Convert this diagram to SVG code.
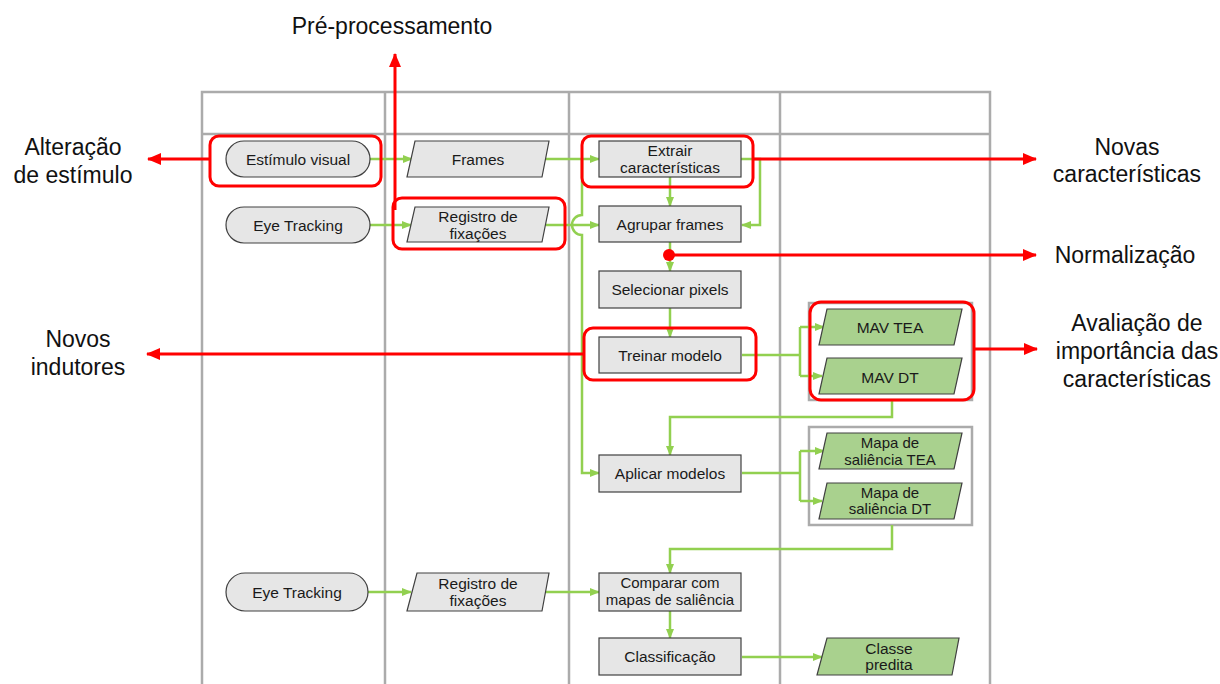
<svg xmlns="http://www.w3.org/2000/svg" width="1220" height="684" viewBox="0 0 1220 684">
<style>
.grid{stroke:#ABABAB;stroke-width:2.5;fill:none}
.box{fill:#E6E6E6;stroke:#404040;stroke-width:1.2}
.gbox{fill:#A9D18E;stroke:#404040;stroke-width:1.2}
.frame{fill:none;stroke:#ABABAB;stroke-width:2.5}
.t{font-family:"Liberation Sans",Arial,sans-serif;font-size:15.5px;fill:#1A1A1A;text-anchor:middle}
.s{font-size:15px}
.lab{font-family:"Liberation Sans",Arial,sans-serif;font-size:23px;fill:#111;text-anchor:middle}
.g{stroke:#92D050;stroke-width:2.5;fill:none}
.r{stroke:#FF0000;stroke-width:3;fill:none}
.hl{stroke:#FF0000;stroke-width:3;fill:none}
</style>
<defs>
<marker id="ga" markerUnits="userSpaceOnUse" markerWidth="10" markerHeight="10" refX="9" refY="5" orient="auto"><path d="M0,1 L10,5 L0,9 Z" fill="#92D050"/></marker>
<marker id="ra" markerUnits="userSpaceOnUse" markerWidth="14" markerHeight="12" refX="13" refY="6" orient="auto"><path d="M0,0 L14,6 L0,12 Z" fill="#FF0000"/></marker>
</defs>
<rect width="1220" height="684" fill="#FFFFFF"/>
<g id="grid">
<path class="grid" d="M202,684 V92 H990 V684 M385,92 V684 M569,92 V684 M780,92 V684 M202,134 H990"/>
</g>
<g id="groups">
<rect class="frame" x="809" y="303" width="163" height="97"/>
<rect class="frame" x="809" y="427" width="163" height="98"/>
</g>
<g id="connectors">
<path class="g" d="M370,159 H412" marker-end="url(#ga)"/>
<path class="g" d="M370,225 H411" marker-end="url(#ga)"/>
<path class="g" d="M546,159 H599" marker-end="url(#ga)"/>
<path class="g" d="M546,225 H599" marker-end="url(#ga)"/>
<path class="g" d="M582,159 V215 A10,10 0 0 0 582,235 V473 H599" marker-end="url(#ga)"/>
<path class="g" d="M741,159 H760 V225 H742" marker-end="url(#ga)"/>
<path class="g" d="M670,177 V206" marker-end="url(#ga)"/>
<path class="g" d="M670,242 V271" marker-end="url(#ga)"/>
<path class="g" d="M670,308 V337" marker-end="url(#ga)"/>
<path class="g" d="M742,355 H800 M800,327 V376 M800,327 H824" marker-end="url(#ga)"/>
<path class="g" d="M800,376 H822" marker-end="url(#ga)"/>
<path class="g" d="M892,400 V417 H670 V455" marker-end="url(#ga)"/>
<path class="g" d="M742,473 H800 M800,451 V501 M800,451 H824" marker-end="url(#ga)"/>
<path class="g" d="M800,501 H822" marker-end="url(#ga)"/>
<path class="g" d="M892,525 V549 H670 V573" marker-end="url(#ga)"/>
<path class="g" d="M368,592 H411" marker-end="url(#ga)"/>
<path class="g" d="M546,592 H599" marker-end="url(#ga)"/>
<path class="g" d="M670,611 V638" marker-end="url(#ga)"/>
<path class="g" d="M742,657 H822" marker-end="url(#ga)"/>
</g>
<g id="n-estimulo"><rect class="box" x="226" y="141" width="144" height="36" rx="18"/><text class="t" x="298" y="165">Estímulo visual</text></g>
<g id="n-eye1"><rect class="box" x="226" y="207" width="144" height="36" rx="18"/><text class="t" x="298" y="231">Eye Tracking</text></g>
<g id="n-frames"><polygon class="box" points="415,141 549,141 542,177 407,177"/><text class="t" x="478" y="165">Frames</text></g>
<g id="n-registro1"><polygon class="box" points="415,207 549,207 542,242 407,242"/><text class="t" x="478" y="222">Registro de</text><text class="t" x="478" y="239">fixações</text></g>
<g id="n-extrair"><rect class="box" x="599" y="141" width="142" height="36"/><text class="t" x="670" y="156">Extrair</text><text class="t" x="670" y="173">características</text></g>
<g id="n-agrupar"><rect class="box" x="599" y="206" width="142" height="36"/><text class="t" x="670" y="230">Agrupar frames</text></g>
<g id="n-selecionar"><rect class="box" x="599" y="271" width="142" height="37"/><text class="t" x="670" y="295">Selecionar pixels</text></g>
<g id="n-treinar"><rect class="box" x="599" y="337" width="142" height="36"/><text class="t" x="670" y="361">Treinar modelo</text></g>
<g id="n-mavtea"><polygon class="gbox" points="827,309 962,309 954,345 819,345"/><text class="t" x="890" y="333">MAV TEA</text></g>
<g id="n-mavdt"><polygon class="gbox" points="827,358 962,358 954,394 819,394"/><text class="t" x="890" y="383">MAV DT</text></g>
<g id="n-aplicar"><rect class="box" x="599" y="455" width="142" height="37"/><text class="t" x="670" y="479">Aplicar modelos</text></g>
<g id="n-mapatea"><polygon class="gbox" points="827,433 962,433 954,469 819,469"/><text class="t s" x="890" y="448">Mapa de</text><text class="t s" x="890" y="465">saliência TEA</text></g>
<g id="n-mapadt"><polygon class="gbox" points="827,483 962,483 954,519 819,519"/><text class="t s" x="890" y="498">Mapa de</text><text class="t s" x="890" y="514">saliência DT</text></g>
<g id="n-eye2"><rect class="box" x="226" y="573" width="142" height="38" rx="19"/><text class="t" x="297" y="598">Eye Tracking</text></g>
<g id="n-registro2"><polygon class="box" points="417,573 549,573 542,611 407,611"/><text class="t" x="478" y="589">Registro de</text><text class="t" x="478" y="606">fixações</text></g>
<g id="n-comparar"><rect class="box" x="599" y="573" width="142" height="38"/><text class="t s" x="670" y="588">Comparar com</text><text class="t s" x="670" y="605">mapas de saliência</text></g>
<g id="n-classificacao"><rect class="box" x="599" y="638" width="142" height="37"/><text class="t" x="670" y="662">Classificação</text></g>
<g id="n-classe"><polygon class="gbox" points="827,638 959,638 952,675 817,675"/><text class="t" x="889" y="654">Classe</text><text class="t" x="889" y="670">predita</text></g>
<g id="highlights">
<rect class="hl" x="210" y="136" width="171" height="50" rx="9"/>
<rect class="hl" x="393" y="198" width="172" height="51" rx="9"/>
<rect class="hl" x="582" y="136" width="171" height="51" rx="9"/>
<rect class="hl" x="584" y="328" width="172" height="52" rx="9"/>
<rect class="hl" x="810" y="302" width="164" height="98" rx="11"/>
</g>
<g id="red-connectors">
<path class="r" d="M210,159 H148" marker-end="url(#ra)"/>
<path class="r" d="M395,210 V54" marker-end="url(#ra)"/>
<path class="r" d="M753,159 H1036" marker-end="url(#ra)"/>
<circle cx="669" cy="255" r="6" fill="#FF0000"/>
<path class="r" d="M669,255 H1036" marker-end="url(#ra)"/>
<path class="r" d="M584,354 H147" marker-end="url(#ra)"/>
<path class="r" d="M974,349 H1037" marker-end="url(#ra)"/>
</g>
<g id="labels">
<text class="lab" x="392" y="34">Pré-processamento</text>
<text class="lab" x="73" y="155">Alteração</text>
<text class="lab" x="73" y="183">de estímulo</text>
<text class="lab" x="78" y="347">Novos</text>
<text class="lab" x="78" y="375">indutores</text>
<text class="lab" x="1127" y="155">Novas</text>
<text class="lab" x="1127" y="182">características</text>
<text class="lab" x="1125" y="263">Normalização</text>
<text class="lab" x="1137" y="331">Avaliação de</text>
<text class="lab" x="1137" y="359">importância das</text>
<text class="lab" x="1137" y="387">características</text>
</g>
</svg>
